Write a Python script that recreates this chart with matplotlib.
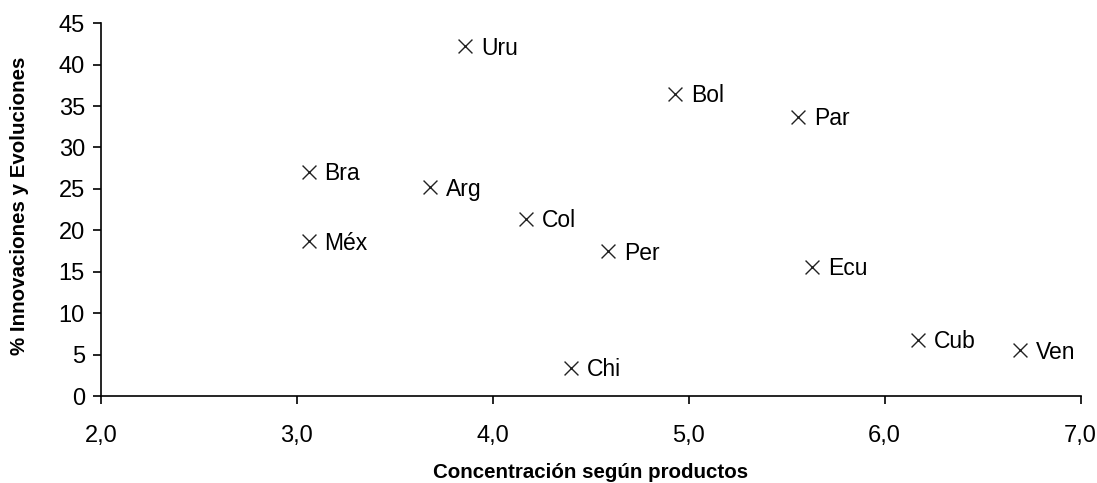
import matplotlib
matplotlib.use("Agg")
import matplotlib.pyplot as plt

plt.rcParams["font.family"] = ["Liberation Sans", "DejaVu Sans"]

# Data
paises = ["Uru", "Bol", "Par", "Bra", "Arg", "Col", "Méx", "Per", "Ecu", "Cub", "Ven", "Chi"]
concentracion = [3.86, 4.93, 5.56, 3.06, 3.68, 4.17, 3.06, 4.59, 5.63, 6.17, 6.69, 4.40]
innovaciones = [42.2, 36.5, 33.7, 27.1, 25.2, 21.4, 18.7, 17.5, 15.6, 6.8, 5.5, 3.4]

x_ticks = [2.0, 3.0, 4.0, 5.0, 6.0, 7.0]
y_ticks = list(range(0, 50, 5))

fig = plt.figure(figsize=(10.97, 4.83), dpi=100)
ax = fig.add_axes([0.092, 0.180, 0.893, 0.772])

ax.scatter(concentracion, innovaciones, marker="x", s=100, color="#222222",
           linewidths=1.0, zorder=3)

for name, xv, yv in zip(paises, concentracion, innovaciones):
    ax.annotate(name, (xv, yv), textcoords="offset points", xytext=(11.5, -1.5),
                ha="left", va="center", fontsize=16.5, color="black")

ax.set_xlim(2.0, 7.0)
ax.set_ylim(0, 45)
ax.set_xticks(x_ticks)
ax.set_xticklabels([f"{v:.1f}".replace(".", ",") for v in x_ticks])
ax.set_yticks(y_ticks)
ax.tick_params(axis="both", direction="out", length=5.5, width=1.2, labelsize=17,
               colors="black")
ax.tick_params(axis="x", pad=15)
ax.tick_params(axis="y", pad=6)

ax.spines["top"].set_visible(False)
ax.spines["right"].set_visible(False)
ax.spines["left"].set_linewidth(1.2)
ax.spines["bottom"].set_linewidth(1.2)

ax.set_xlabel("Concentración según productos", fontsize=14.8, fontweight="bold",
              va="center")
ax.xaxis.set_label_coords(0.5, -0.204)
ax.set_ylabel("% Innovaciones y Evoluciones", fontsize=14.8, fontweight="bold",
              va="center")
ax.yaxis.set_label_coords(-0.083, 0.51)

fig.savefig("out.png", dpi=100)
